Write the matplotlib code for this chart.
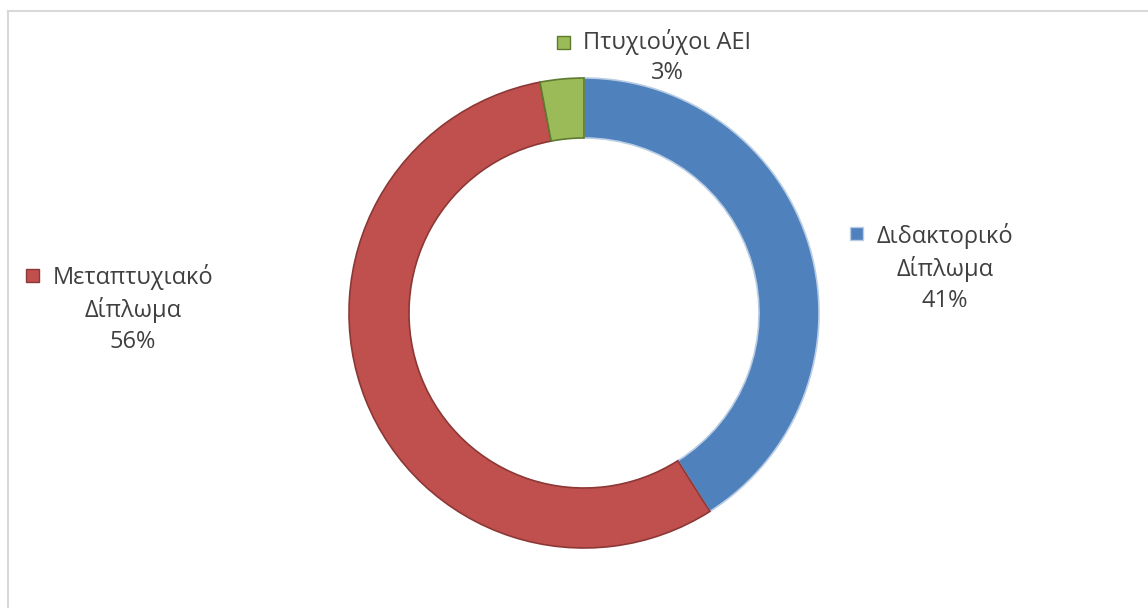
import matplotlib.pyplot as plt
from matplotlib.patches import Rectangle
from matplotlib.lines import Line2D

# data
categories = ['Διδακτορικό\nΔίπλωμα', 'Μεταπτυχιακό\nΔίπλωμα', 'Πτυχιούχοι ΑΕΙ']
percents = [41, 56, 3]
colors = ['#4F81BD', '#C0504D', '#9BBB59']
edge_colors = ['#B8CCE4', '#8C3836', '#5E7A2E']

W, H = 1148, 608
fig = plt.figure(figsize=(W / 100, H / 100), dpi=100)
ax = fig.add_axes([0, 0, 1, 1])

cx, cy = 584, H - 313
r_out, ring = 235, 60

wedges, _ = ax.pie(percents, colors=colors, startangle=90, counterclock=False,
                   radius=r_out, center=(cx, cy),
                   wedgeprops=dict(width=ring, linewidth=1.2))
for w, ec in zip(wedges, edge_colors):
    w.set_edgecolor(ec)

ax.set_xlim(0, W)
ax.set_ylim(0, H)
ax.set_aspect('equal')
ax.axis('off')

# label anchors (pixel centre of text block, marker position)
label_pos = [(945, 268), (133, 309), (667, 57)]
marker_pos = [(856, 233), (32, 275), (563, 42)]
text_color = '#404040'
for lab, p, (tx, ty), (mx, my), c, ec in zip(categories, percents, label_pos,
                                             marker_pos, colors, edge_colors):
    ax.text(tx, H - ty, f'{lab}\n{p}%', ha='center', va='center', fontsize=17,
            color=text_color, family='Open Sans', linespacing=1.36,
            transform=ax.transData)
    ax.add_patch(Rectangle((mx - 6.5, H - my - 6.5), 13, 13, facecolor=c,
                           edgecolor=ec, linewidth=1))

# chart frame (only top and left visible)
fig.add_artist(Line2D([8 / W, 8 / W], [0, 1 - 11 / H], color='#D9D9D9', lw=1.5))
fig.add_artist(Line2D([8 / W, 1], [1 - 11 / H, 1 - 11 / H], color='#D9D9D9', lw=1.5))

plt.savefig('out.png', dpi=100)
